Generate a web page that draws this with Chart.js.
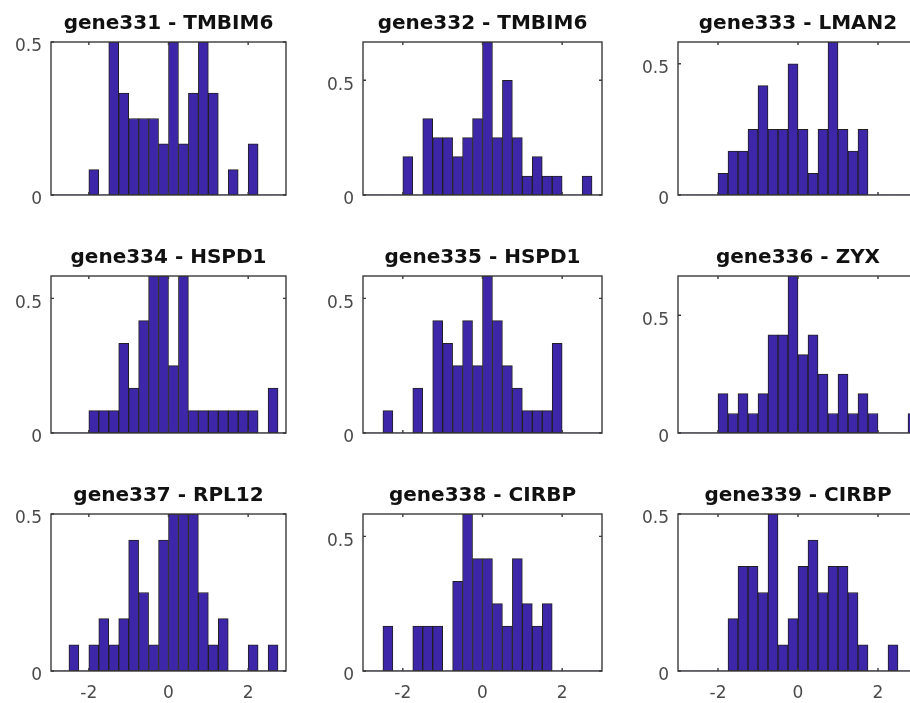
<!DOCTYPE html>
<html>
<head>
<meta charset="utf-8">
<script src="https://cdn.jsdelivr.net/npm/chart.js@4.4.1/dist/chart.umd.min.js"></script>
<style>
  html, body { margin: 0; padding: 0; background: #fff; overflow: hidden; width: 910px; height: 703px; }
  canvas { position: absolute; }
</style>
</head>
<body>
<script>
// histogram bin centres (bin width 0.25, edges -3 .. 3)
const binCenters = [-2.875, -2.625, -2.375, -2.125, -1.875, -1.625, -1.375, -1.125,
                    -0.875, -0.625, -0.375, -0.125, 0.125, 0.375, 0.625, 0.875,
                    1.125, 1.375, 1.625, 1.875, 2.125, 2.375, 2.625, 2.875];

// normalised bar heights, one value per bin
const gene331 = [0, 0, 0, 0, 0.083, 0, 0.5, 0.333, 0.25, 0.25, 0.25, 0.167, 0.5, 0.167, 0.333, 0.5, 0.333, 0, 0.083, 0, 0.167, 0, 0, 0];
const gene332 = [0, 0, 0, 0, 0.167, 0, 0.333, 0.25, 0.25, 0.167, 0.25, 0.333, 0.667, 0.25, 0.5, 0.25, 0.083, 0.167, 0.083, 0.083, 0, 0, 0.083, 0];
const gene333 = [0, 0, 0, 0, 0.083, 0.167, 0.167, 0.25, 0.417, 0.25, 0.25, 0.5, 0.25, 0.083, 0.25, 0.583, 0.25, 0.167, 0.25, 0, 0, 0, 0, 0];
const gene334 = [0, 0, 0, 0, 0.083, 0.083, 0.083, 0.333, 0.167, 0.417, 0.583, 0.583, 0.25, 0.583, 0.083, 0.083, 0.083, 0.083, 0.083, 0.083, 0.083, 0, 0.167, 0];
const gene335 = [0, 0, 0.083, 0, 0, 0.167, 0, 0.417, 0.333, 0.25, 0.417, 0.25, 0.583, 0.417, 0.25, 0.167, 0.083, 0.083, 0.083, 0.333, 0, 0, 0, 0];
const gene336 = [0, 0, 0, 0, 0.167, 0.083, 0.167, 0.083, 0.167, 0.417, 0.417, 0.667, 0.333, 0.417, 0.25, 0.083, 0.25, 0.083, 0.167, 0.083, 0, 0, 0, 0.083];
const gene337 = [0, 0, 0.083, 0, 0.083, 0.167, 0.083, 0.167, 0.417, 0.25, 0.083, 0.417, 0.5, 0.5, 0.5, 0.25, 0.083, 0.167, 0, 0, 0.083, 0, 0.083, 0];
const gene338 = [0, 0, 0.167, 0, 0, 0.167, 0.167, 0.167, 0, 0.333, 0.583, 0.417, 0.417, 0.25, 0.167, 0.417, 0.25, 0.167, 0.25, 0, 0, 0, 0, 0];
const gene339 = [0, 0, 0, 0, 0, 0.167, 0.333, 0.333, 0.25, 0.5, 0.083, 0.167, 0.333, 0.417, 0.25, 0.333, 0.333, 0.25, 0.083, 0, 0, 0.083, 0, 0];

const titles = ['gene331 - TMBIM6', 'gene332 - TMBIM6', 'gene333 - LMAN2',
                'gene334 - HSPD1', 'gene335 - HSPD1', 'gene336 - ZYX',
                'gene337 - RPL12', 'gene338 - CIRBP', 'gene339 - CIRBP'];
const series = [gene331, gene332, gene333, gene334, gene335, gene336, gene337, gene338, gene339];

const xTickValues = [-2, 0, 2];
const yTickValues = [0, 0.5];

// subplot geometry (plot-area boxes, pixels)
const colLeft = [51, 363, 678];
const colWidth = [235, 239, 240];
const colRange = [[-2.95, 2.95], [-3, 3], [-3, 3]];
const rowTop = [42, 276, 514];
const rowHeight = [153, 157, 157];

const AXIS_W = 45;
const PAD_R = 6;
const TITLE_H = 32;      // 3 + 22 + 7
const BOTTOM_H = 20;
const BOTTOM_H_LAST = 34;

const BAR_COLOR = '#3E26A8';
const EDGE_COLOR = '#202020';
const BOX_COLOR = '#3a3a3a';
const TICK_COLOR = '#4a4a4a';

// draws the axes box and the small inward tick marks
const boxPlugin = {
    id: 'axesBox',
    afterDatasetsDraw(chart) {
        const { ctx, chartArea: a, scales: { x, y } } = chart;
        ctx.save();
        ctx.strokeStyle = BOX_COLOR;
        ctx.lineWidth = 1.4;
        ctx.beginPath();
        xTickValues.forEach(v => {
            const px = x.getPixelForValue(v);
            ctx.moveTo(px, a.bottom); ctx.lineTo(px, a.bottom - 3);
            ctx.moveTo(px, a.top); ctx.lineTo(px, a.top + 3);
        });
        yTickValues.forEach(v => {
            const py = y.getPixelForValue(v);
            ctx.moveTo(a.left, py); ctx.lineTo(a.left + 3, py);
            ctx.moveTo(a.right, py); ctx.lineTo(a.right - 3, py);
        });
        ctx.stroke();
        ctx.strokeRect(a.left, a.top, a.right - a.left, a.bottom - a.top);
        ctx.restore();
    }
};

series.forEach((values, k) => {
    const row = Math.floor(k / 3);
    const col = k % 3;
    const lastRow = row === 2;
    const bottomH = lastRow ? BOTTOM_H_LAST : BOTTOM_H;

    const canvas = document.createElement('canvas');
    canvas.width = AXIS_W + colWidth[col] + PAD_R;
    canvas.height = TITLE_H + rowHeight[row] + bottomH;
    canvas.style.left = (colLeft[col] - AXIS_W) + 'px';
    canvas.style.top = (rowTop[row] - TITLE_H) + 'px';
    document.body.appendChild(canvas);

    new Chart(canvas, {
        type: 'bar',
        data: {
            datasets: [{
                data: binCenters.map((c, i) => ({ x: c, y: values[i] })),
                backgroundColor: BAR_COLOR,
                borderColor: EDGE_COLOR,
                // empty bins get no outline
                borderWidth: ctx => (ctx.raw && ctx.raw.y > 0 ? 1 : 0),
                borderSkipped: false,
                barPercentage: 1,
                categoryPercentage: 1
            }]
        },
        options: {
            responsive: false,
            animation: false,
            layout: { padding: { left: 0, right: PAD_R, top: 0, bottom: 0 } },
            scales: {
                x: {
                    type: 'linear',
                    min: colRange[col][0],
                    max: colRange[col][1],
                    offset: false,
                    grid: { display: false, drawTicks: false },
                    border: { display: false },
                    afterBuildTicks: s => { s.ticks = xTickValues.map(v => ({ value: v })); },
                    afterFit: s => { s.height = bottomH; },
                    ticks: {
                        display: lastRow,
                        autoSkip: false,
                        maxRotation: 0,
                        padding: 12,
                        color: TICK_COLOR,
                        font: { family: 'DejaVu Sans', size: 17 },
                        callback: v => String(v)
                    }
                },
                y: {
                    min: 0,
                    max: Math.max(...values),
                    grid: { display: false, drawTicks: false },
                    border: { display: false },
                    afterBuildTicks: s => { s.ticks = yTickValues.map(v => ({ value: v })); },
                    afterFit: s => { s.width = AXIS_W; },
                    ticks: {
                        autoSkip: false,
                        padding: 9,
                        labelOffset: 5,
                        color: TICK_COLOR,
                        font: { family: 'DejaVu Sans', size: 17 },
                        callback: v => String(v)
                    }
                }
            },
            plugins: {
                legend: { display: false },
                tooltip: { enabled: false },
                title: {
                    display: true,
                    text: titles[k],
                    fullSize: false,
                    color: '#111',
                    font: { family: 'DejaVu Sans', weight: 'bold', size: 20, lineHeight: '22px' },
                    padding: { top: 3, bottom: 7 }
                }
            }
        },
        plugins: [boxPlugin]
    });
});
</script>
</body>
</html>
